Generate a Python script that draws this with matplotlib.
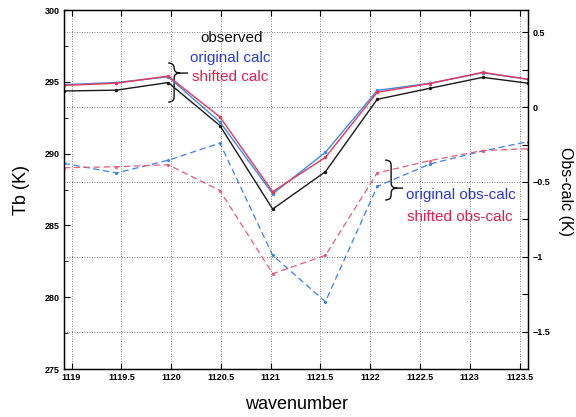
import numpy as np
import matplotlib
matplotlib.use('Agg')
import matplotlib.pyplot as plt
from matplotlib.path import Path
from matplotlib.patches import PathPatch

# Channel wavenumbers and brightness temperatures
wavenumber = [1118.92, 1119.45, 1119.97, 1120.49, 1121.02,
              1121.55, 1122.07, 1122.60, 1123.13, 1123.59]
tb_observed = [294.36, 294.42, 294.95, 291.95, 286.14,
               288.74, 293.78, 294.55, 295.31, 294.90]
tb_original = [294.80, 294.95, 295.35, 292.20, 287.20,
               290.09, 294.40, 294.90, 295.63, 295.17]
tb_shifted = [294.75, 294.90, 295.40, 292.55, 287.35,
              289.74, 294.27, 294.88, 295.66, 295.17]

# Obs - calc residuals (right axis)
dtb_original = [-0.375, -0.440, -0.355, -0.240, -0.990,
                -1.300, -0.530, -0.380, -0.293, -0.230]
dtb_shifted = [-0.405, -0.398, -0.385, -0.558, -1.113,
               -0.990, -0.440, -0.357, -0.290, -0.278]

xticks = [1119, 1119.5, 1120, 1120.5, 1121, 1121.5, 1122, 1122.5, 1123, 1123.5]
xtick_labels = ['1119', '1119.5', '1120', '1120.5', '1121', '1121.5',
                '1122', '1122.5', '1123', '1123.5']
tb_ticks = [275, 280, 285, 290, 295, 300]
dtb_ticks = [-1.5, -1, -0.5, 0, 0.5]
dtb_labels = ['\u22121.5', '\u22121', '\u22120.5', '0', '0.5']


def brace(ax, x0, width, y_top, y_bot, y_tip, r, tail, **kw):
    # right-facing curly brace, tip at y_tip, short stroke after the tip
    xm = x0 + width / 2.0
    xt = x0 + width
    verts = [(x0, y_top), (xm, y_top), (xm, y_top - r),
             (xm, y_tip + r), (xm, y_tip), (xt, y_tip),
             (xm, y_tip), (xm, y_tip - r),
             (xm, y_bot + r), (xm, y_bot), (x0, y_bot),
             (xt, y_tip), (xt + tail, y_tip)]
    codes = [Path.MOVETO, Path.CURVE3, Path.CURVE3,
             Path.LINETO, Path.CURVE3, Path.CURVE3,
             Path.CURVE3, Path.CURVE3,
             Path.LINETO, Path.CURVE3, Path.CURVE3,
             Path.MOVETO, Path.LINETO]
    ax.add_patch(PathPatch(Path(verts, codes), fill=False, **kw))


def plot_tb(fig_config):
    fig = plt.figure(figsize=(fig_config['fig_width'],
                              fig_config['fig_height']),
                     dpi=fig_config['dpi_size'])
    ax = fig.add_axes([0.111, 0.115, 0.806, 0.861])
    ax2 = ax.twinx()

    lw = fig_config['line_width']
    ax.plot(wavenumber, tb_observed, color='#1a1a1a', lw=lw,
            marker='.', ms=3)
    ax.plot(wavenumber, tb_original, color='#3b8ce8', lw=lw,
            marker='.', ms=3)
    ax.plot(wavenumber, tb_shifted, color='#e8365a', lw=lw,
            marker='.', ms=3)

    ax2.plot(wavenumber, dtb_original, color='#3f7fe6', lw=lw - 0.1,
             ls=(0, (5, 3)), marker='.', ms=2.5)
    ax2.plot(wavenumber, dtb_shifted, color='#e85a78', lw=lw - 0.1,
             ls=(0, (5, 3)), marker='.', ms=2.5)

    ax.set_xlim(1118.923, 1123.587)
    ax.set_ylim(275, 300)
    ax2.set_ylim(-1.742, 0.649)

    tick_font = dict(fontsize=fig_config['tick_size'], fontweight='bold')
    ax.set_xticks(xticks)
    ax.set_xticklabels(xtick_labels, **tick_font)
    ax.set_yticks(tb_ticks)
    ax.set_yticklabels([str(t) for t in tb_ticks], **tick_font)
    ax.set_yticks(np.arange(277.5, 300, 5), minor=True)
    ax2.set_yticks(dtb_ticks)
    ax2.set_yticklabels(dtb_labels, **tick_font)
    ax2.set_yticks([-1.75, -1.25, -0.75, -0.25, 0.25], minor=True)

    ax.tick_params(direction='in', length=4, width=0.8, top=True,
                   right=False, pad=3)
    ax.tick_params(axis='y', which='minor', direction='in', length=3,
                   right=False)
    ax2.tick_params(direction='in', length=4, width=0.8, pad=3)
    ax2.tick_params(which='minor', direction='in', length=4, width=0.8)

    grid = dict(color='#555555', ls=(0, (1, 2)), lw=0.6)
    ax.xaxis.grid(True, **grid)
    ax2.yaxis.grid(True, **grid)

    for a in (ax, ax2):
        for s in a.spines.values():
            s.set_linewidth(0.9)

    ax.set_xlabel('wavenumber', fontsize=fig_config['label_size'],
                  va='center')
    ax.xaxis.set_label_coords(0.5, -0.100)
    ax.set_ylabel('Tb (K)', fontsize=fig_config['label_size'], va='center')
    ax.yaxis.set_label_coords(-0.0905, 0.5)
    ax2.set_ylabel('Obs-calc (K)', fontsize=fig_config['label_size'] - 1.5,
                   rotation=270, va='center')
    ax2.yaxis.set_label_coords(1.0797, 0.495)

    # legend built from text labels and braces
    fs = fig_config['legend_size']
    ax.text(1120.61, 298.05, 'observed', color='#111111', fontsize=fs,
            ha='center', va='center')
    ax.text(1120.59, 296.66, 'original calc', color='#2a3ad8', fontsize=fs,
            ha='center', va='center')
    ax.text(1120.59, 295.33, 'shifted calc', color='#e0204a', fontsize=fs,
            ha='center', va='center')
    ax.text(1122.91, 287.12, 'original obs-calc', color='#2a3ad8',
            fontsize=fs, ha='center', va='center')
    ax.text(1122.90, 285.58, 'shifted obs-calc', color='#e0204a',
            fontsize=fs, ha='center', va='center')

    brace(ax, 1119.97, 0.12, 296.31, 293.59, 295.61, 0.35, 0.08,
          color='#111111', lw=1.0)
    brace(ax, 1122.15, 0.12, 289.55, 286.77, 287.60, 0.35, 0.06,
          color='#111111', lw=1.0)

    fig.savefig(fig_config['output'], dpi=fig_config['dpi_size'])


if __name__ == "__main__":
    plt.rcParams['font.family'] = ['Liberation Sans', 'DejaVu Sans']

    fig_config = {}
    fig_config['line_width'] = 1.0
    fig_config['fig_width'] = 5.76
    fig_config['fig_height'] = 4.17
    fig_config['dpi_size'] = 100
    fig_config['label_size'] = 13
    fig_config['legend_size'] = 11
    fig_config['tick_size'] = 6.5
    fig_config['output'] = 'out.png'

    plot_tb(fig_config)
